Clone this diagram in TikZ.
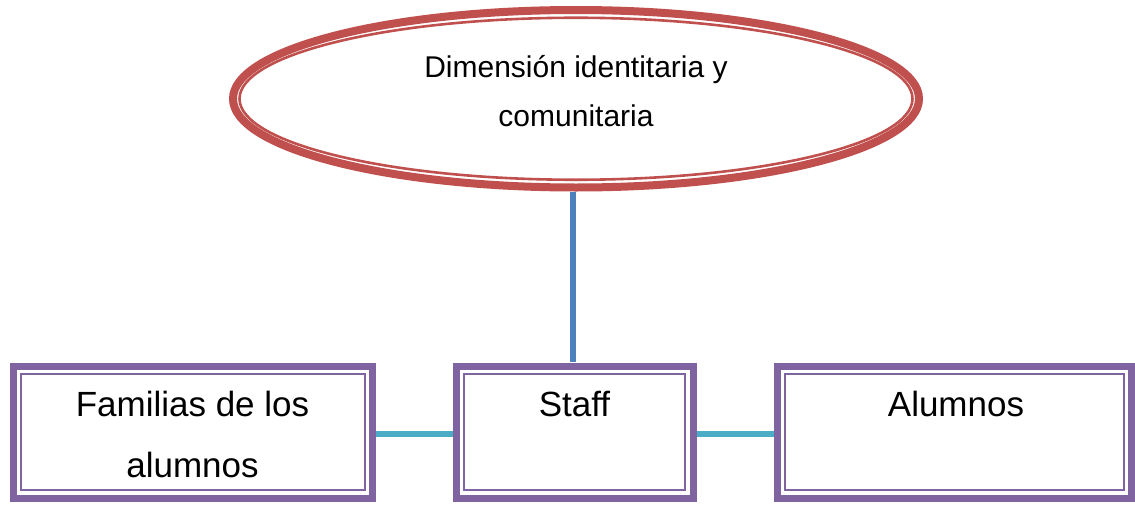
\documentclass[tikz,border=0pt]{standalone}
\usepackage{fontspec}
\setmainfont{Liberation Sans}
\usetikzlibrary{shapes.geometric}
\definecolor{ellred}{HTML}{C0504D}
\definecolor{boxpurple}{HTML}{8064A2}
\definecolor{linkaqua}{HTML}{4BACC6}
\definecolor{linkblue}{HTML}{4F81BD}
\tikzset{
  outerbox/.style={draw=boxpurple, line width=7pt, rectangle, inner sep=0pt, minimum height=132pt},
  innerline/.style={draw=boxpurple, line width=2pt},
  ellbox/.style={draw=ellred, line width=8pt, ellipse, inner sep=0pt, minimum width=686pt, minimum height=177.5pt},
  boxtext/.style={font=\fontsize{35}{61}\selectfont, anchor=base, inner sep=0pt, align=center},
  elltext/.style={font=\fontsize{30}{49}\selectfont, anchor=base, inner sep=0pt, align=center},
  hlink/.style={draw=linkaqua, line width=6pt},
  vlink/.style={draw=linkblue, line width=6pt}
}
\begin{document}
\begin{tikzpicture}[x=1pt,y=-1pt]
\useasboundingbox (0,0) rectangle (1135,506);
% ellipse
\node[ellbox] (ell) at (576,98.75) {};
\draw[draw=ellred, line width=2.6pt] (ell.center) ellipse [x radius=336.5pt, y radius=81pt];
% boxes
\node[outerbox, minimum width=359pt] (b1) at (192.5,432) {};
\node[outerbox, minimum width=237pt] (b2) at (574.5,432) {};
\node[outerbox, minimum width=354pt] (b3) at (954.5,432) {};
\draw[innerline] (20.5,374) rectangle (364.5,490);
\draw[innerline] (464,374) rectangle (685,490);
\draw[innerline] (785,374) rectangle (1124,490);
% connectors
\draw[vlink] (ell.south -| 573,0) -- (573,362) coordinate (vtop);
\draw[hlink] ([yshift=-2pt]b1.east) -- ([yshift=-2pt]b2.west);
\draw[hlink] ([yshift=-2pt]b2.east) -- ([yshift=-2pt]b3.west);
% texts (anchor base = baseline of last line)
\node[elltext] (t0) at (576,126) {Dimensión identitaria y\\comunitaria};
\node[boxtext] (t1) at (192.5,477) {Familias de los\\alumnos};
\node[boxtext] (t2) at (574.5,416) {Staff};
\node[boxtext] (t3) at (956,416) {Alumnos};
\end{tikzpicture}
\end{document}
